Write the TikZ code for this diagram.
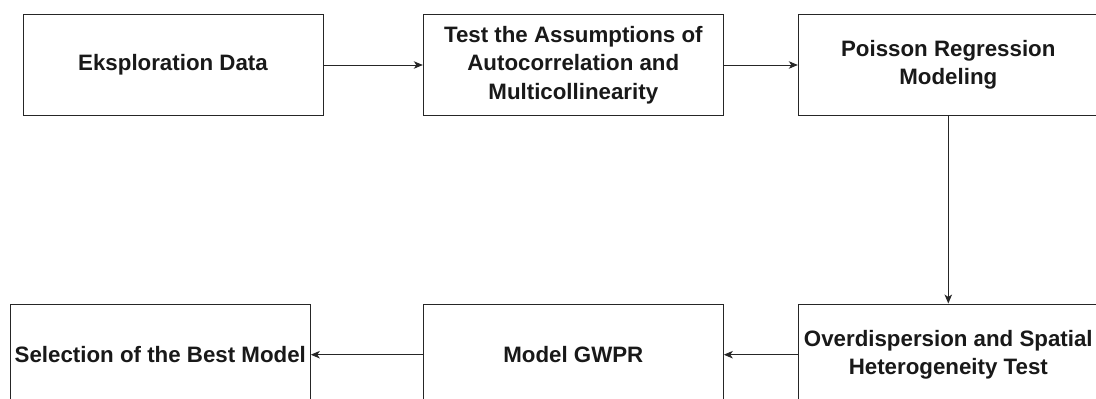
\documentclass[tikz,border=0pt]{standalone}
\usepackage{fontspec}
\setmainfont{Liberation Sans}
\usetikzlibrary{arrows.meta}
\tikzset{
  stepbox/.style={draw=black!85, line width=1pt, minimum width=300pt, minimum height=101.4pt,
    inner sep=0pt, align=center, font=\bfseries\fontsize{22.3}{28.3}\selectfont, text=black!90},
  flow/.style={draw=black!85, line width=1pt, -{Stealth[length=9pt,width=7.5pt,inset=2.5pt]}}
}
\begin{document}
\begin{tikzpicture}[x=1pt,y=-1pt]
\path[use as bounding box, fill=white] (0,0) rectangle (1096,399);
\clip (0,0) rectangle (1096,399);
\node[stepbox] (eks) at (173,65) {Eksploration Data};
\node[stepbox] (test) at (573.3,65) {Test the Assumptions of\\Autocorrelation and\\Multicollinearity};
\node[stepbox] (pois) at (948.3,65) {Poisson Regression\\Modeling};
\node[stepbox] (over) at (948.3,354.7) {Overdispersion and Spatial\\Heterogeneity Test};
\node[stepbox] (gwpr) at (573.3,354.7) {Model GWPR};
\node[stepbox] (sel) at (160.3,354.7) {Selection of the Best Model};
\draw[flow] (eks) -- (test);
\draw[flow] (test) -- (pois);
\draw[flow] (pois) -- (over);
\draw[flow] (over) -- (gwpr);
\draw[flow] (gwpr) -- (sel);
\end{tikzpicture}
\end{document}
